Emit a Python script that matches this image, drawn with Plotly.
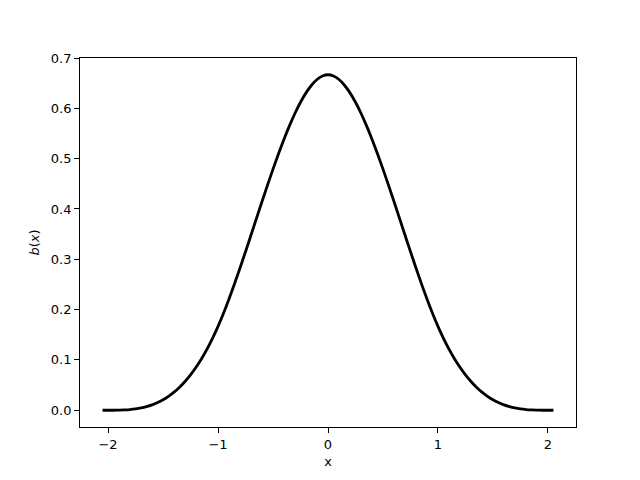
import plotly.graph_objects as go

# values (right half; the curve is symmetric about x = 0)
x_half = [0.0, 0.05, 0.1, 0.15, 0.2, 0.25, 0.3, 0.35, 0.4, 0.45, 0.5, 0.55, 0.6, 0.65,
          0.7, 0.75, 0.8, 0.85, 0.9, 0.95, 1.0, 1.05, 1.1, 1.15, 1.2, 1.25, 1.3, 1.35,
          1.4, 1.45, 1.5, 1.55, 1.6, 1.65, 1.7, 1.75, 1.8, 1.85, 1.9, 1.95, 2.0, 2.05]
b_half = [0.6667, 0.6642, 0.6572, 0.6458, 0.6307, 0.612, 0.5902, 0.5656, 0.5387, 0.5097,
          0.4792, 0.4474, 0.4147, 0.3815, 0.3482, 0.3151, 0.2827, 0.2512, 0.2212, 0.1929,
          0.1667, 0.1429, 0.1215, 0.1024, 0.0853, 0.0703, 0.0572, 0.0458, 0.036, 0.0277,
          0.0208, 0.0152, 0.0107, 0.0072, 0.0045, 0.0026, 0.0013, 0.0006, 0.0002, 0.0,
          0.0, 0.0]

x_vals = [-v for v in reversed(x_half[1:])] + x_half
b_vals = list(reversed(b_half[1:])) + b_half

x_ticks = [-2, -1, 0, 1, 2]
x_ticktext = ["\u22122", "\u22121", "0", "1", "2"]
y_ticks = [0.0, 0.1, 0.2, 0.3, 0.4, 0.5, 0.6, 0.7]
y_ticktext = ["0.0", "0.1", "0.2", "0.3", "0.4", "0.5", "0.6", "0.7"]

fig = go.Figure()
fig.add_trace(go.Scatter(x=x_vals, y=b_vals, mode="lines",
                         line=dict(color="black", width=2.8, shape="spline", smoothing=1.0),
                         showlegend=False, hoverinfo="skip"))

axis_common = dict(showgrid=False, zeroline=False, showline=True, linecolor="black",
                   linewidth=1, mirror=True, ticks="outside", ticklen=4.9, tickwidth=1,
                   tickcolor="black", automargin=False,
                   tickfont=dict(family="DejaVu Sans", size=13, color="black"))

# the page body adds an 8px offset, so margins are shifted to compensate
fig.update_layout(
    width=640, height=480,
    margin=dict(l=72, r=72, t=50, b=61, pad=0),
    paper_bgcolor="white", plot_bgcolor="white",
    font=dict(family="DejaVu Sans", size=13, color="black"),
    xaxis=dict(range=[-2.255, 2.255], tickvals=x_ticks, ticktext=x_ticktext,
               title=dict(text="x", standoff=6, font=dict(size=13)), **axis_common),
    yaxis=dict(range=[-0.0333, 0.7], tickvals=y_ticks, ticktext=y_ticktext,
               title=dict(text="<i>b</i>(<i>x</i>)", standoff=8, font=dict(size=13)), **axis_common),
)

fig.write_html("out.html")
